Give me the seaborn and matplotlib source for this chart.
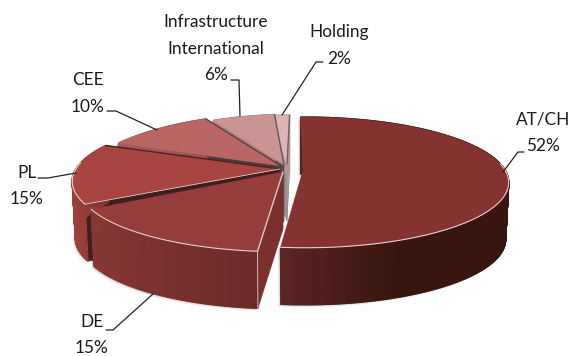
import numpy as np
import matplotlib
matplotlib.use("Agg")
import matplotlib.pyplot as plt
from matplotlib.patches import Polygon
from matplotlib.collections import PolyCollection
import seaborn as sns

# Portfolio split by segment, in percent of the total
segments = ["AT/CH", "DE", "PL", "CEE", "Infrastructure\nInternational", "Holding"]
shares = [52, 15, 15, 10, 6, 2]
top_colors = ["#843331", "#953d3a", "#a84541", "#b86564", "#c99492", "#dcb4b3"]

sns.set_theme(style="white")
plt.rcParams["font.family"] = ["Lato", "DejaVu Sans"]

fig = plt.figure(figsize=(5.7, 3.56), dpi=100)
ax = fig.add_axes([0, 0, 1, 1])
ax.set_xlim(0, 570)
ax.set_ylim(356, 0)
ax.axis("off")

# Perspective projection of the pie's tilted disc
RADIUS_X, RADIUS_Y, PERSPECTIVE, DEPTH, FLOOR_SHRINK = 200.0, 63.0, 0.19, 57.0, 0.985
START_ANGLE = -1.5

# Apex and rim centre of each exploded wedge
hubs = [(303, 170), (283, 172), (280, 169), (281, 166), (284, 165), (287, 164)]
rim_centers = [(305, 170), (282, 174), (276, 169), (297, 168), (300, 167), (294, 168)]
scales = [1.0, 1.0, 1.0, 1.05, 1.0, 1.0]
wall_left = ["#5c2522", "#873733", "#9c403b", "#a85a58", "#b98583", "#c9a3a2"]
wall_right = ["#38150f", "#6a2a28", "#85332f", "#965150", "#a87775", "#b89392"]
shade_stretch = [2.0, 1.0, 1.0, 1.0, 1.0, 1.0]
cut_faces = ["#5c2522", "#7a302d", "#3d1f1d", "#4a3a3a", "#5a5050", "#9a9494"]
seam_colors = ["#843331", "#e0c8c5", "#4a2320", "#4f4444", "#5f5858", "#6a6464"]


def project(center, theta, scale):
    x, y = np.sin(theta), np.cos(theta)
    d = 1 + PERSPECTIVE * y
    return np.column_stack([center[0] + scale * RADIUS_X * x / d,
                            center[1] - scale * RADIUS_Y * y / d])


edges = START_ANGLE + 3.6 * np.concatenate([[0], np.cumsum(shares)])
# Painter's order: rear wedges first, the large front wedge last
order = [5, 4, 3, 2, 1, 0]
for rank, i in enumerate(order):
    z = 2 + rank
    theta = np.linspace(np.radians(edges[i]), np.radians(edges[i + 1]),
                        max(int(edges[i + 1] - edges[i]) * 2, 8))
    hub_xy = np.array(hubs[i], dtype=float)
    rim = project(rim_centers[i], theta, scales[i])
    below = rim + [0, DEPTH]
    below[:, 0] = hub_xy[0] + (rim[:, 0] - hub_xy[0]) * FLOOR_SHRINK

    # soft shadow along the lower rim
    for off, alpha in ((2.5, 0.15), (1.2, 0.3)):
        ax.add_patch(Polygon(np.vstack([rim, below[::-1]]) + [-off, off], closed=True,
                             fc="#808080", ec="none", alpha=alpha, zorder=1))

    # the radial cut face that looks towards the viewer
    if i != 0:
        wall = np.array([hub_xy, rim[0], below[0], hub_xy + [0, DEPTH]])
        ax.add_patch(Polygon(wall, closed=True, fc=cut_faces[i], ec=cut_faces[i],
                             lw=0.5, zorder=z))
    if i == 5:
        # the narrow rear wedge also shows its far cut face behind the hub
        wall = np.array([hub_xy, rim[-1], below[-1], hub_xy + [0, DEPTH]])
        ax.add_patch(Polygon(wall, closed=True, fc="#aaa6a6", ec="#8f8a8a",
                             lw=0.5, zorder=z))

    # outer wall, shaded strip by strip from left to right
    pal = sns.blend_palette([wall_left[i], wall_right[i]], 32)
    span = max(np.ptp(rim[:, 0]), 1e-6)
    quads, cols = [], []
    for k in range(len(theta) - 1):
        quads.append([rim[k], rim[k + 1], below[k + 1], below[k]])
        t = (rim[k:k + 2, 0].mean() - rim[:, 0].min()) / span * shade_stretch[i]
        cols.append(pal[int(min(t, 1.0) * 31)])
    ax.add_collection(PolyCollection(quads, facecolors=cols, edgecolors=cols,
                                     linewidths=1.0, zorder=z + 0.1))

    # top face, with a pale highlight on the front of the rim
    ax.add_patch(Polygon(np.vstack([hub_xy, rim]), closed=True, fc=top_colors[i],
                         ec=top_colors[i], lw=0.3, zorder=z + 0.2))
    front = np.cos(theta) < 0.1
    if front.any():
        ax.plot(rim[front, 0], rim[front, 1], color="#e6cfcc", lw=0.8, zorder=z + 0.3)

    # seam along the wedge's rearward radial edge
    if i > 0:
        seam = rim[0] if i == 1 else rim[-1]
        ax.plot([hub_xy[0], seam[0]], [hub_xy[1], seam[1]], color=seam_colors[i],
                lw=1.0, zorder=z + 0.3)
    if i == 1:
        ax.plot([rim[0, 0], below[0, 0]], [rim[0, 1], below[0, 1]], color="#d9bdbb",
                lw=0.7, zorder=z + 0.3)
    if i == 2:
        ax.plot([hub_xy[0], rim[0, 0]], [hub_xy[1], rim[0, 1]], color="#e0c8c5",
                lw=0.6, zorder=z + 0.3)

# Labels: text anchors and elbow leader lines
label_xy = [(543, 133), (92, 335), (27, 186), (88, 93.5), (216, 48.5), (339, 45.5)]
leaders = [
    [(503, 172), (518, 152), (524, 152)],
    [(153, 294), (113, 330), (106, 330)],
    [(76, 173), (48, 178), (38, 178)],
    [(157, 130), (116, 111), (107, 111)],
    [(240, 116), (239, 80), (231, 80)],
    [(282, 115), (316, 62), (323, 62)],
]
for name, share, (lx, ly), path in zip(segments, shares, label_xy, leaders):
    ax.text(lx, ly, f"{name}\n{share}%", ha="center", va="center", fontsize=12.4,
            color="#1a1a1a", linespacing=1.78, zorder=12)
    p = np.array(path)
    ax.plot(p[:, 0], p[:, 1], color="#222222", lw=0.9, zorder=11)

fig.savefig("out.png", dpi=100, facecolor="white")
